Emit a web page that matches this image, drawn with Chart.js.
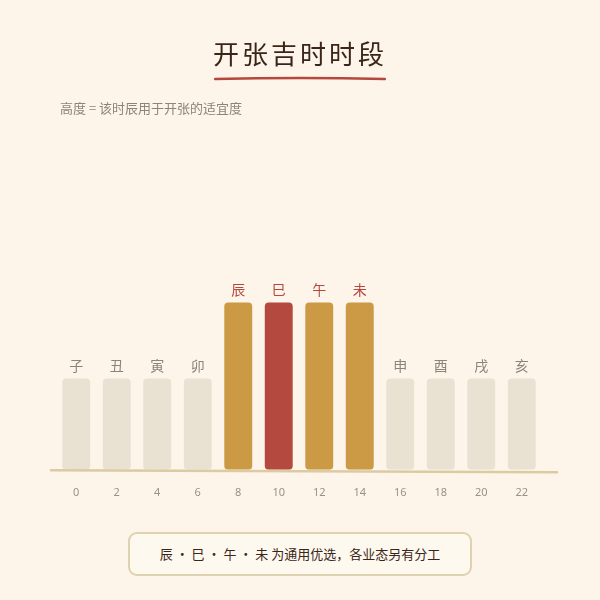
<!DOCTYPE html>
<html><head><meta charset="utf-8">
<script src="https://cdn.jsdelivr.net/npm/chart.js@4"></script>
<style>
html,body{margin:0;padding:0;background:#fdf5e9;}
#wrap{position:relative;width:600px;height:600px;font-family:"Noto Sans CJK SC","Noto Sans",sans-serif;}
#title{position:absolute;top:34px;left:0;width:600px;text-align:center;font-size:26px;letter-spacing:3px;color:#3b2519;font-family:"Noto Sans CJK SC",serif;font-weight:400;}
#uline{position:absolute;top:76px;left:214px;width:172px;height:6px;}
#sub{position:absolute;top:98px;left:60px;font-size:13px;color:#8c8475;}
#cv{position:absolute;top:0;left:0;}
#note{position:absolute;left:128px;top:532px;width:344px;height:44px;border:2px solid #e0d1b0;border-radius:9px;background:#fef9ee;box-sizing:border-box;text-align:center;line-height:40px;font-size:13px;color:#3b2519;}
</style></head>
<body><div id="wrap">
<canvas id="cv" width="600" height="600"></canvas>
<div id="title">开张吉时时段</div>
<svg id="uline" viewBox="0 0 172 6"><path d="M1 3 Q86 1 171 3" stroke="#b5473e" stroke-width="2.5" fill="none" stroke-linecap="round"/></svg>
<div id="sub">高度 = 该时辰用于开张的适宜度</div>
<div id="note">辰 · 巳 · 午 · 未 为通用优选，各业态另有分工</div>
</div>
<script>
const hours = ["0","2","4","6","8","10","12","14","16","18","20","22"];
const branches = ["子","丑","寅","卯","辰","巳","午","未","申","酉","戌","亥"];
const suitability = [3,3,3,3,5.5,5.5,5.5,5.5,3,3,3,3];
const barColors = ["#e9e2d3","#e9e2d3","#e9e2d3","#e9e2d3","#cc9944","#b4493f","#cc9944","#cc9944","#e9e2d3","#e9e2d3","#e9e2d3","#e9e2d3"];
const labelColors = ["#8c8475","#8c8475","#8c8475","#8c8475","#b5473e","#b5473e","#b5473e","#b5473e","#8c8475","#8c8475","#8c8475","#8c8475"];

const topLabels = {
  id:'topLabels',
  afterDatasetsDraw(chart){
    const ctx=chart.ctx, meta=chart.getDatasetMeta(0);
    ctx.save();
    ctx.font='14px "Noto Sans CJK SC", serif';
    ctx.textAlign='center'; ctx.textBaseline='bottom';
    meta.data.forEach((bar,i)=>{
      ctx.fillStyle=labelColors[i];
      ctx.fillText(branches[i], bar.x, bar.y-6);
    });
    ctx.restore();
  }
};
const baseline = {
  id:'baseline',
  afterDatasetsDraw(chart){
    const ctx=chart.ctx, a=chart.chartArea;
    ctx.save();
    ctx.strokeStyle='#dccaa2'; ctx.lineWidth=2.5; ctx.lineCap='round';
    ctx.beginPath();
    ctx.moveTo(a.left-5, a.bottom+0.5);
    ctx.lineTo(a.right+15, a.bottom+2.5);
    ctx.stroke();
    ctx.restore();
  }
};

new Chart(document.getElementById('cv'),{
  type:'bar',
  data:{labels:hours,datasets:[{data:suitability,backgroundColor:barColors,borderRadius:4,borderSkipped:false,barPercentage:0.69,categoryPercentage:1}]},
  options:{
    responsive:false,animation:false,
    layout:{padding:{left:56,right:58,top:135,bottom:93}},
    plugins:{legend:{display:false},tooltip:{enabled:false}},
    scales:{
      x:{grid:{display:false},border:{display:false},
         ticks:{color:'#9a9182',font:{size:11,family:'"Noto Sans","Noto Sans CJK SC",sans-serif'},padding:8}},
      y:{display:false,min:0,max:11}
    }
  },
  plugins:[topLabels,baseline]
});
</script>
</body></html>
